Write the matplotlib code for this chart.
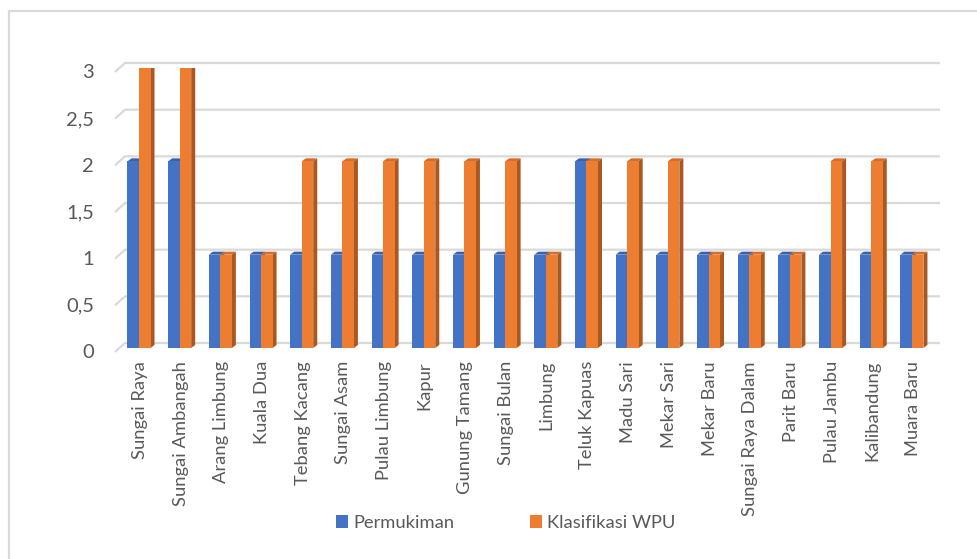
import matplotlib
matplotlib.use("Agg")
import matplotlib.pyplot as plt
from matplotlib.patches import Polygon, Rectangle
from matplotlib.lines import Line2D

plt.rcParams['font.family'] = ['Lato', 'DejaVu Sans']

categories = ["Sungai Raya", "Sungai Ambangah", "Arang Limbung", "Kuala Dua",
              "Tebang Kacang", "Sungai Asam", "Pulau Limbung", "Kapur",
              "Gunung Tamang", "Sungai Bulan", "Limbung", "Teluk Kapuas",
              "Madu Sari", "Mekar Sari", "Mekar Baru", "Sungai Raya Dalam",
              "Parit Baru", "Pulau Jambu", "Kalibandung", "Muara Baru"]
permukiman = [2, 2, 1, 1, 1, 1, 1, 1, 1, 1, 1, 2, 1, 1, 1, 1, 1, 1, 1, 1]
klasifikasi_wpu = [3, 3, 1, 1, 2, 2, 2, 2, 2, 2, 1, 2, 2, 2, 1, 1, 1, 2, 2, 1]
y_ticks = [0, 0.5, 1, 1.5, 2, 2.5, 3]
y_tick_labels = ["0", "0,5", "1", "1,5", "2", "2,5", "3"]
series_names = ["Permukiman", "Klasifikasi WPU"]

W, H = 977, 559
fig = plt.figure(figsize=(W / 100, H / 100), dpi=100)

# plot area in pixels (front face coordinates of the bars)
px_left, px_right = 115, 940
px_base, px_top = 348, 68
x0_px, step_px = 139, 40.68
ax = fig.add_axes([px_left / W, (H - px_base) / H,
                   (px_right - px_left) / W, (px_base - px_top) / H])
ax.set_xlim((px_left - x0_px) / step_px, (px_right - x0_px) / step_px)
ax.set_ylim(0, 3)
ax.axis('off')

dxp = 1 / step_px             # data x per pixel
dyp = 3 / (px_base - px_top)  # data y per pixel

grid_color = "#d9d9d9"
xl, xr = ax.get_xlim()
for v, lab in zip(y_ticks, y_tick_labels):
    yf = v - 4 * dyp
    yb = v + 5 * dyp
    ax.plot([xl, xl + 10 * dxp, xr], [yf, yb, yb], color=grid_color,
            lw=1.6, solid_capstyle='butt', zorder=1, clip_on=False)
    ax.text(xl - 21 * dxp, yf - 1 * dyp, lab,
            ha='right', va='center', fontsize=14.5, color="#595959")

bw = 0.283
ddx, ddy = 4 * dxp, 3 * dyp
styles = [
    dict(front="#4472C4", top="#3A62AC", side="#2F5597"),
    dict(front="#ED7D31", top="#D46E2A", side="#A85820"),
]
z = 2
for i, cat in enumerate(categories):
    for s, vals in enumerate([permukiman, klasifikasi_wpu]):
        v = vals[i]
        l = i - bw + s * bw
        r = l + bw
        st = styles[s]
        top = Polygon([(l, v), (l + ddx, v + ddy), (r + ddx, v + ddy), (r, v)],
                      closed=True, fc=st["top"], ec='none', zorder=z)
        side = Polygon([(r, 0), (r + ddx, ddy), (r + ddx, v + ddy), (r, v)],
                       closed=True, fc=st["side"], ec='none', zorder=z + 1)
        front = Rectangle((l, 0), bw, v, fc=st["front"], ec='none', zorder=z + 2)
        for p in (top, side, front):
            ax.add_patch(p)
        z += 3
    ax.text(i + 1 * dxp, -13 * dyp, cat, rotation=90, ha='center', va='top',
            fontsize=13.2, color="#595959")

# legend
handles = [Rectangle((0, 0), 1, 1, fc=styles[0]["front"]),
           Rectangle((0, 0), 1, 1, fc=styles[1]["front"])]
fig.legend(handles, series_names, loc='center', bbox_to_anchor=(506 / W, 1 - 523 / H),
           ncol=2, frameon=False, fontsize=13.2, labelcolor="#595959",
           handlelength=0.65, handleheight=0.65, handletextpad=0.3, columnspacing=4.1)

# chart area border (top and left edges)
fig.add_artist(Line2D([8.5 / W, 8.5 / W, 1.0], [0.0, 1 - 10.5 / H, 1 - 10.5 / H],
                      transform=fig.transFigure, color="#d9d9d9", lw=1.6))

fig.savefig("out.png", dpi=100, facecolor="white")
